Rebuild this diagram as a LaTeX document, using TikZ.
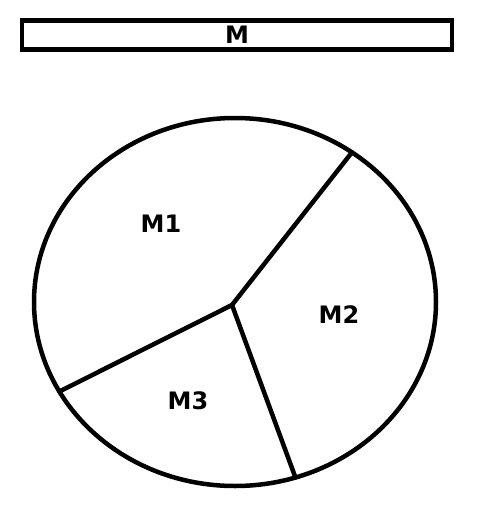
\documentclass[tikz,border=0pt]{standalone}
\usepackage{fontspec}
\setmainfont{DejaVu Sans}
\usetikzlibrary{positioning, shapes.geometric}

\begin{document}
\begin{tikzpicture}[
    x=1pt, y=-1pt,
    every node/.style={inner sep=0pt, outer sep=0pt},
    lbl/.style={font=\fontsize{24}{28}\selectfont\bfseries},
    bar/.style={draw, line width=4.5pt, minimum width=430pt, minimum height=29pt},
    pie/.style={draw, ellipse, line width=4.5pt, minimum width=402pt, minimum height=368pt},
    cut/.style={line width=4.5pt, line cap=round},
]
\useasboundingbox (0,0) rectangle (490,509);

% --------- Whole (top bar) ----------
\node[bar, lbl] (whole) at (237,35) {M};

% --------- Pie and its parts ----------
\node[pie] (disc) at (235,302) {};
\coordinate (hub) at (232,305);

\draw[cut] (hub) -- (disc.52.3);
\draw[cut] (hub) -- (disc.207.1);
\draw[cut] (hub) -- (disc.289.3);

\node[lbl] (m1) at (161,224) {M1};
\node[lbl] (m2) at (339,315) {M2};
\node[lbl] (m3) at (188,401) {M3};

\end{tikzpicture}
\end{document}
